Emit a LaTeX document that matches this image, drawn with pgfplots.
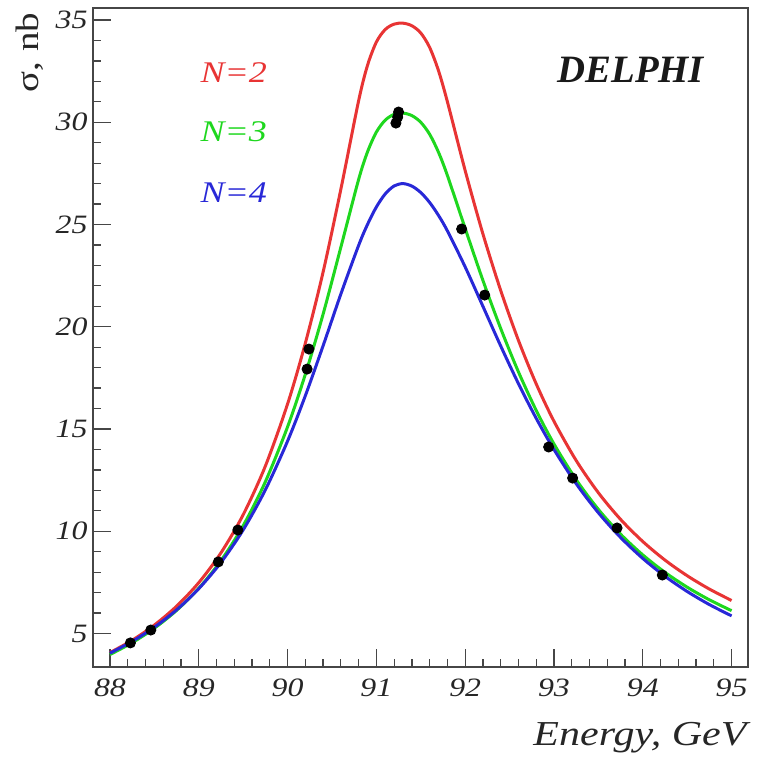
\documentclass[border=0pt]{standalone}
\usepackage{pgfplots}
\pgfplotsset{compat=1.18}
\usepackage{fontspec}
\setmainfont{Liberation Serif}[FakeStretch=1.2]
\newfontfamily\plainfont{Liberation Serif}

\definecolor{cRed}{RGB}{232,52,52}
\definecolor{cGreen}{RGB}{30,215,30}
\definecolor{cBlue}{RGB}{40,40,215}
\definecolor{cAxis}{RGB}{70,70,70}

\begin{document}
\begin{tikzpicture}
    \begin{axis}[
        scale only axis,
        width=262pt, height=263.6pt,
        xmin=87.809, xmax=95.185,
        ymin=3.362, ymax=35.587,
        xtick={88,89,90,91,92,93,94,95},
        ytick={5,10,15,20,25,30,35},
        minor tick num=4,
        xtick pos=bottom, ytick pos=left,
        tick align=inside,
        major tick length=7pt,
        minor tick length=3.2pt,
        axis line style={cAxis, line width=0.6pt},
        every tick/.style={cAxis, line width=0.5pt},
        /pgf/number format/assume math mode=true,
        ticklabel style={font=\fontsize{10.6}{12}\selectfont\itshape, text=black!85},
        yticklabel style={inner sep=0pt, xshift=-2pt},
        xticklabel style={inner sep=0pt, yshift=-4.4pt},
        clip=true,
        ]

    % N=2
    \addplot[color=cRed, line width=1.2pt, smooth] coordinates {
    (88.0,4.065)(88.25,4.670)(88.5,5.413)(88.75,6.334)(89.0,7.487)(89.25,8.946)
    (89.5,10.807)(89.75,13.189)(90.0,16.224)(90.2,19.195)(90.4,22.674)(90.6,26.724)
    (90.8,31.050)(90.9,32.780)(91.0,33.923)(91.1,34.537)(91.2,34.799)(91.3,34.845)
    (91.4,34.719)(91.5,34.365)(91.6,33.660)(91.7,32.516)(91.8,31.000)(92.0,27.635)
    (92.2,24.537)(92.4,21.776)(92.6,19.332)(92.8,17.206)(93.0,15.377)(93.25,13.459)
    (93.5,11.882)(93.75,10.580)(94.0,9.498)(94.25,8.590)(94.5,7.825)(94.75,7.173)
    (95.0,6.614)
    };

    % N=3
    \addplot[color=cGreen, line width=1.2pt, smooth] coordinates {
    (88.0,3.970)(88.25,4.550)(88.5,5.257)(88.75,6.129)(89.0,7.210)(89.25,8.566)
    (89.5,10.272)(89.75,12.422)(90.0,15.106)(90.2,17.675)(90.4,20.615)(90.6,23.890)
    (90.8,27.200)(90.9,28.549)(91.0,29.519)(91.1,30.104)(91.2,30.386)(91.3,30.447)
    (91.4,30.325)(91.5,29.999)(91.6,29.412)(91.7,28.529)(91.8,27.395)(92.0,24.807)
    (92.2,22.265)(92.4,19.916)(92.6,17.791)(92.8,15.910)(93.0,14.268)(93.25,12.521)
    (93.5,11.067)(93.75,9.856)(94.0,8.843)(94.25,7.989)(94.5,7.265)(94.75,6.647)
    (95.0,6.116)
    };

    % N=4
    \addplot[color=cBlue, line width=1.2pt, smooth] coordinates {
    (88.0,4.040)(88.25,4.613)(88.5,5.307)(88.75,6.154)(89.0,7.193)(89.25,8.476)
    (89.5,10.065)(89.75,12.025)(90.0,14.409)(90.2,16.627)(90.4,19.069)(90.6,21.600)
    (90.8,23.977)(90.9,25.002)(91.0,25.857)(91.1,26.497)(91.2,26.886)(91.3,27.0)
    (91.4,26.877)(91.5,26.564)(91.6,26.077)(91.7,25.442)(91.8,24.686)(92.0,22.924)
    (92.2,20.997)(92.4,19.061)(92.6,17.218)(92.8,15.521)(93.0,13.995)(93.25,12.326)
    (93.5,10.904)(93.75,9.696)(94.0,8.671)(94.25,7.799)(94.5,7.054)(94.75,6.414)
    (95.0,5.863)
    };

    % DELPHI data
    \addplot[only marks, mark=*, mark size=2pt, color=black] coordinates {
    (88.23,4.54)(88.46,5.17)(89.22,8.50)(89.44,10.06)(90.22,17.93)(90.24,18.91)
    (91.22,29.96)(91.24,30.25)(91.25,30.50)(91.96,24.78)(92.22,21.55)(92.94,14.12)
    (93.21,12.60)(93.71,10.16)(94.22,7.86)
    };

    \node[anchor=base west, text=cRed, font=\fontsize{12}{14}\selectfont\itshape, inner sep=0pt]
        at (rel axis cs:0.1634,0.8862) {N=2};
    \node[anchor=base west, text=cGreen, font=\fontsize{12}{14}\selectfont\itshape, inner sep=0pt]
        at (rel axis cs:0.1634,0.7967) {N=3};
    \node[anchor=base west, text=cBlue, font=\fontsize{12}{14}\selectfont\itshape, inner sep=0pt]
        at (rel axis cs:0.1634,0.7041) {N=4};
    \node[anchor=base west, font=\plainfont\fontsize{15.5}{18}\selectfont\bfseries\itshape, inner sep=0pt, text=black!90]
        at (rel axis cs:0.7084,0.8862) {DELPHI};

    \coordinate (bl) at (rel axis cs:-0.142,-0.13657);
    \coordinate (tr) at (rel axis cs:1.02748,1.01214);
    \coordinate (ylab) at (rel axis cs:-0.0962,0.9939);
    \coordinate (xlab) at (rel axis cs:0.9985,-0.1184);
    \end{axis}

    \node[rotate=90, anchor=east, inner sep=0pt, font=\fontsize{13}{15}\selectfont, text=black!85]
        at (ylab) {σ, nb};
    \node[anchor=base east, inner sep=0pt, font=\fontsize{14}{16}\selectfont\itshape, text=black!85]
        at (xlab) {Energy, GeV};

    \pgfresetboundingbox
    \path[use as bounding box] (bl) rectangle (tr);
\end{tikzpicture}
\end{document}
